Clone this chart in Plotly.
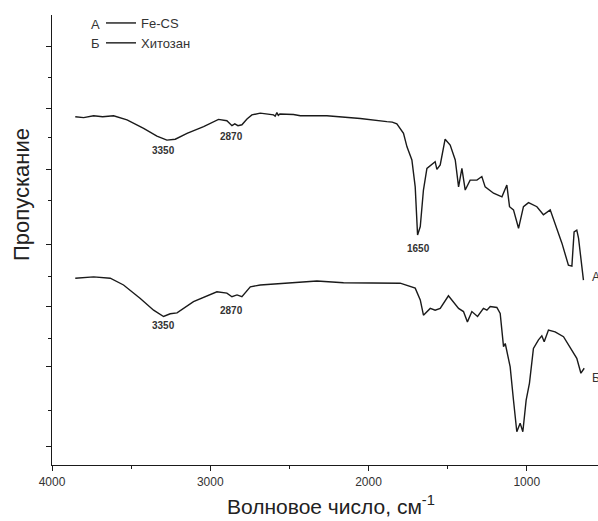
import plotly.graph_objects as go

# FTIR spectrum of Fe-CS (curve А): wavenumber, cm-1 and transmittance, a.u.
fecs_wn = [3853, 3800, 3737, 3680, 3611, 3526, 3421, 3337, 3274, 3221, 3147, 3042,
           2948, 2895, 2863, 2845, 2825, 2800, 2768, 2737, 2684, 2600, 2590, 2579,
           2570, 2560, 2474, 2431, 2263, 2160, 2052, 1884, 1850, 1821, 1779, 1757,
           1726, 1705, 1690, 1673, 1653, 1631, 1600, 1579, 1568, 1547, 1516, 1484,
           1452, 1431, 1410, 1389, 1358, 1315, 1284, 1263, 1210, 1157, 1126, 1109,
           1084, 1052, 1021, 989, 936, 895, 852, 821, 778, 737, 715, 701, 684, 673, 642]
fecs_t = [77.4, 77.2, 77.6, 77.4, 77.6, 76.7, 74.8, 73.1, 72.2, 72.4, 73.7, 75.2,
          76.8, 76.5, 75.4, 75.8, 75.4, 75.6, 76.9, 77.8, 78.2, 77.8, 77.5, 78.3,
          77.7, 78.0, 77.9, 77.6, 77.6, 77.3, 77.0, 76.3, 76.2, 75.8, 73.7, 70.7,
          67.8, 61.8, 51.1, 53.0, 61.1, 65.9, 66.7, 67.4, 65.7, 66.7, 72.4, 71.1,
          67.8, 61.8, 65.9, 61.1, 63.3, 63.3, 64.1, 61.8, 60.4, 59.6, 62.2, 57.4,
          56.7, 52.6, 57.4, 58.3, 57.4, 55.6, 56.7, 53.7, 49.3, 44.4, 44.2, 51.8,
          52.2, 50.4, 41.1]

# FTIR spectrum of chitosan (curve Б)
cs_wn = [3853, 3790, 3737, 3632, 3548, 3442, 3358, 3295, 3253, 3210, 3106, 2958,
         2895, 2863, 2831, 2800, 2747, 2684, 2474, 2326, 2158, 1989, 1800, 1705,
         1673, 1653, 1610, 1579, 1547, 1495, 1431, 1400, 1375, 1347, 1311, 1274,
         1252, 1231, 1189, 1168, 1147, 1136, 1105, 1084, 1063, 1042, 1025, 1004,
         983, 958, 926, 905, 890, 863, 821, 768, 715, 684, 658, 637]
cs_t = [41.5, 41.7, 41.8, 41.5, 40.0, 37.0, 34.4, 33.0, 33.6, 33.8, 36.3, 38.5,
        38.2, 37.4, 37.8, 37.4, 39.6, 40.0, 40.5, 40.9, 40.5, 40.5, 40.4, 39.3,
        36.7, 33.3, 34.8, 34.4, 34.8, 37.6, 34.8, 34.1, 31.8, 34.1, 33.0, 34.8,
        34.4, 35.2, 35.0, 33.7, 26.3, 27.0, 21.8, 14.4, 7.4, 9.3, 7.4, 14.4,
        18.2, 25.9, 27.8, 28.7, 27.4, 30.0, 29.6, 28.5, 25.6, 23.7, 20.4, 21.5]

# Band labels: (wavenumber, transmittance, text)
band_wn = [3296, 2867, 1683, 3296, 2867]
band_t = [70.0, 72.9, 48.2, 31.1, 34.4]
band_text = ["3350", "2870", "1650", "3350", "2870"]

# Curve letters at the right end of each spectrum
curve_letters = ["А", "Б"]
curve_letter_t = [41.8, 19.3]

x_major = [4000, 3000, 2000, 1000]
x_minor = [3500, 2500, 1500]
y_major = [92.9, 79.3, 65.6, 48.9, 35.3, 21.8, 4.2]
y_minor = [86.2, 72.7, 58.7, 42.0, 28.2, 12.2]

LINE = "#1a1a1a"
TEXT = "#333333"
FONT = "Liberation Sans, Arial, sans-serif"

W, H = 598, 521
ML, MT, MB, MR = 52, 15, 56, 0
pw, ph = W - ML - MR, H - MT - MB


def px_to_paper(x, y):
    return (x - ML) / pw, 1 - (y - MT) / ph


fig = go.Figure()
fig.add_trace(go.Scatter(x=fecs_wn, y=fecs_t, mode="lines", name="Fe-CS",
                         line=dict(color=LINE, width=1.4)))
fig.add_trace(go.Scatter(x=cs_wn, y=cs_t, mode="lines", name="Хитозан",
                         line=dict(color=LINE, width=1.4)))

annotations = []
for wn, t, txt in zip(band_wn, band_t, band_text):
    annotations.append(dict(x=wn, y=t, text=f"<b>{txt}</b>", showarrow=False,
                            xanchor="center", yanchor="middle",
                            font=dict(size=10, color=TEXT, family=FONT)))
for letter, t in zip(curve_letters, curve_letter_t):
    annotations.append(dict(x=598, y=t, text=letter, showarrow=False,
                            xanchor="left", yanchor="middle",
                            font=dict(size=12, color=TEXT, family=FONT)))
# legend prefixes
for i, letter in enumerate(curve_letters):
    px, py = px_to_paper(89, 24 + 20 * i)
    annotations.append(dict(x=px, y=py, xref="paper", yref="paper",
                            text=letter, showarrow=False,
                            xanchor="left", yanchor="middle",
                            font=dict(size=13, color=TEXT, family=FONT)))
# axis titles
px, py = px_to_paper(21, 195)
annotations.append(dict(x=px, y=py, xref="paper", yref="paper", text="Пропускание",
                        textangle=-90, showarrow=False,
                        xanchor="center", yanchor="middle",
                        font=dict(size=22, color="#222222", family=FONT)))
px, py = px_to_paper(331, 505)
annotations.append(dict(x=px, y=py, xref="paper", yref="paper",
                        text="Волновое число, см<sup>-1</sup>", showarrow=False,
                        xanchor="center", yanchor="middle",
                        font=dict(size=21, color="#222222", family=FONT)))

lx, ly = px_to_paper(101, 8)
fig.update_layout(
    width=W, height=H,
    margin=dict(l=ML, r=MR, t=MT, b=MB),
    paper_bgcolor="white", plot_bgcolor="white",
    font=dict(family=FONT, color=TEXT),
    showlegend=True,
    legend=dict(x=lx, y=ly, xanchor="left", yanchor="top",
                bgcolor="rgba(0,0,0,0)", font=dict(size=13, color=TEXT, family=FONT),
                tracegroupgap=0),
    annotations=annotations,
    xaxis=dict(range=[4000, 550], showgrid=False, zeroline=False,
               showline=True, linecolor=LINE, linewidth=1.2, mirror=False,
               tickmode="array", tickvals=x_major, ticktext=[str(v) for v in x_major],
               ticks="outside", ticklen=5, tickwidth=1.2, tickcolor=LINE,
               tickfont=dict(size=12, color=TEXT, family=FONT),
               minor=dict(tickvals=x_minor, ticks="outside", ticklen=3,
                          tickwidth=1.2, tickcolor=LINE, showgrid=False)),
    yaxis=dict(range=[0, 100], showgrid=False, zeroline=False,
               showline=True, linecolor=LINE, linewidth=1.2,
               tickmode="array", tickvals=y_major, showticklabels=False,
               ticks="outside", ticklen=5, tickwidth=1.2, tickcolor=LINE,
               minor=dict(tickvals=y_minor, ticks="outside", ticklen=3,
                          tickwidth=1.2, tickcolor=LINE, showgrid=False)),
)

fig.write_html("out.html")
